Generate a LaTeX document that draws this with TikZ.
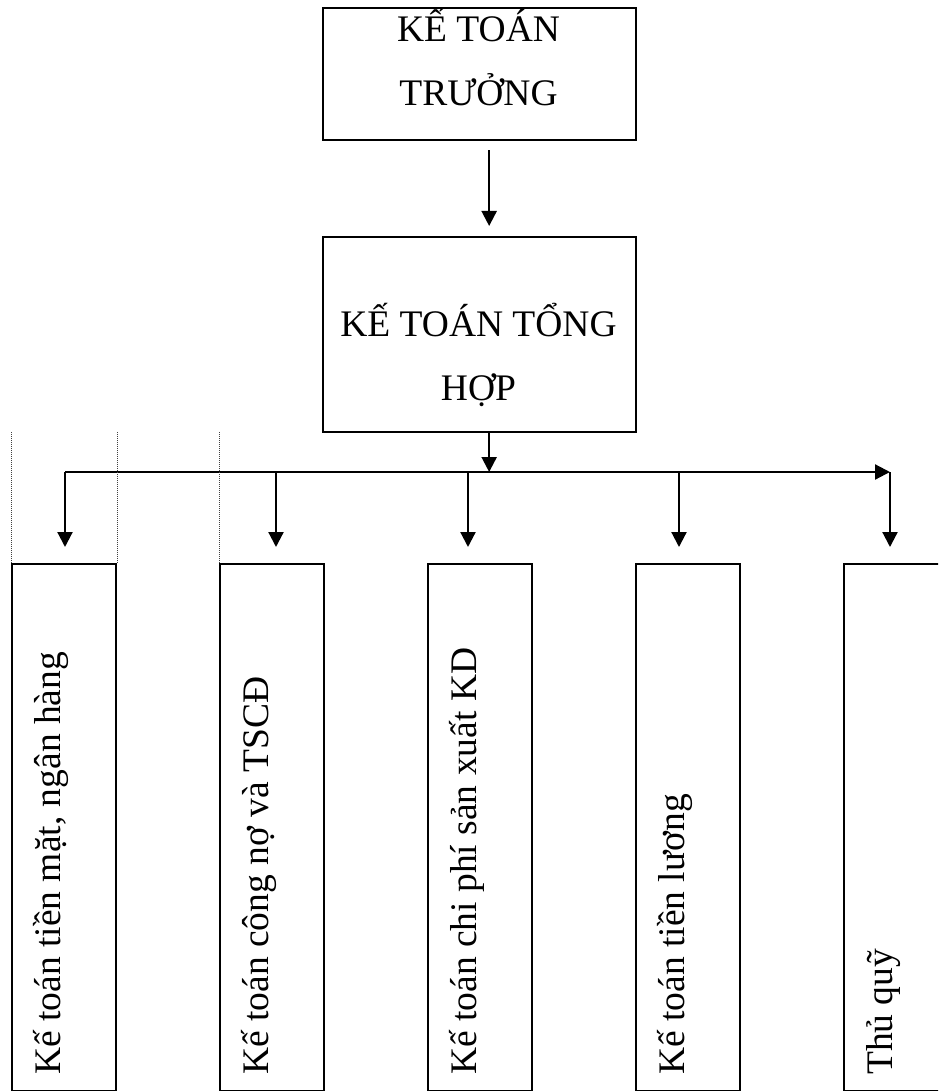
\documentclass[tikz,border=0pt]{standalone}
\usepackage{fontspec}
\setmainfont{Liberation Serif}
\usetikzlibrary{arrows.meta}
\begin{document}
\begin{tikzpicture}[x=1pt,y=-1pt,
  box/.style={draw, line width=2.3pt, inner sep=0pt, anchor=north west},
  unit/.style={box, minimum width=104pt, minimum height=527pt},
  head/.style={font=\fontsize{37.5}{45}\selectfont, inner sep=0pt, anchor=base},
  vlbl/.style={font=\fontsize{37.5}{45}\selectfont, inner sep=0pt, anchor=base west, rotate=90},
  link/.style={line width=2.2pt, -{Triangle[width=15pt,length=15pt]}},
  drop/.style={link, shorten >=16pt},
  guide/.style={line width=1pt, black!75, dash pattern=on 1pt off 1pt}]
\clip (0,0) rectangle (938,1091);

% management boxes
\node[box, minimum width=313pt, minimum height=132pt] (chief) at (322,7) {};
\node[head] (chiefA) at (478.5,42) {KẾ TOÁN};
\node[head] (chiefB) at (478.5,106) {TRƯỞNG};

\node[box, minimum width=313pt, minimum height=195pt] (general) at (322,236) {};
\node[head] (generalA) at (478.5,336) {KẾ TOÁN TỔNG};
\node[head] (generalB) at (478.5,400) {HỢP};

% staff boxes
\node[unit] (cash)   at (11,563)  {};
\node[unit] (debt)   at (219,563) {};
\node[unit] (cost)   at (427,563) {};
\node[unit] (salary) at (635,563) {};
\node[unit] (fund)   at (843,563) {};

\node[vlbl] (cashT)   at (60,1075)  {Kế toán tiền mặt, ngân hàng};
\node[vlbl] (debtT)   at (268,1075) {Kế toán công nợ và TSCĐ};
\node[vlbl] (costT)   at (476,1075) {Kế toán chi phí sản xuất KD};
\node[vlbl] (salaryT) at (684,1075) {Kế toán tiền lương};
\node[vlbl] (fundT)   at (892,1075) {Thủ quỹ};

% distribution bus
\coordinate (busL) at (65,472);
\coordinate (bus2) at (276,472);
\coordinate (bus3) at (468,472);
\coordinate (bus4) at (679,472);
\coordinate (busR) at (890,472);

\draw[link] ([xshift=9.5pt,yshift=-9pt]chief.south) -- ([xshift=9.5pt,yshift=10pt]general.north);
\draw[link] ([xshift=9.5pt]general.south) -- ([xshift=9.5pt]general.south |- busL);
\draw[link] (busL) -- (busR);

\draw[drop] (busL) -- (busL |- cash.north);
\draw[drop] (bus2) -- (bus2 |- debt.north);
\draw[drop] (bus3) -- (bus3 |- cost.north);
\draw[drop] (bus4) -- (bus4 |- salary.north);
\draw[drop] (busR) -- (busR |- fund.north);

% dotted guides above the first two columns
\draw[guide] (cash.north west) -- ++(0,-132);
\draw[guide] (cash.north east) -- ++(0,-132);
\draw[guide] (debt.north west) -- ++(0,-132);
\end{tikzpicture}
\end{document}
